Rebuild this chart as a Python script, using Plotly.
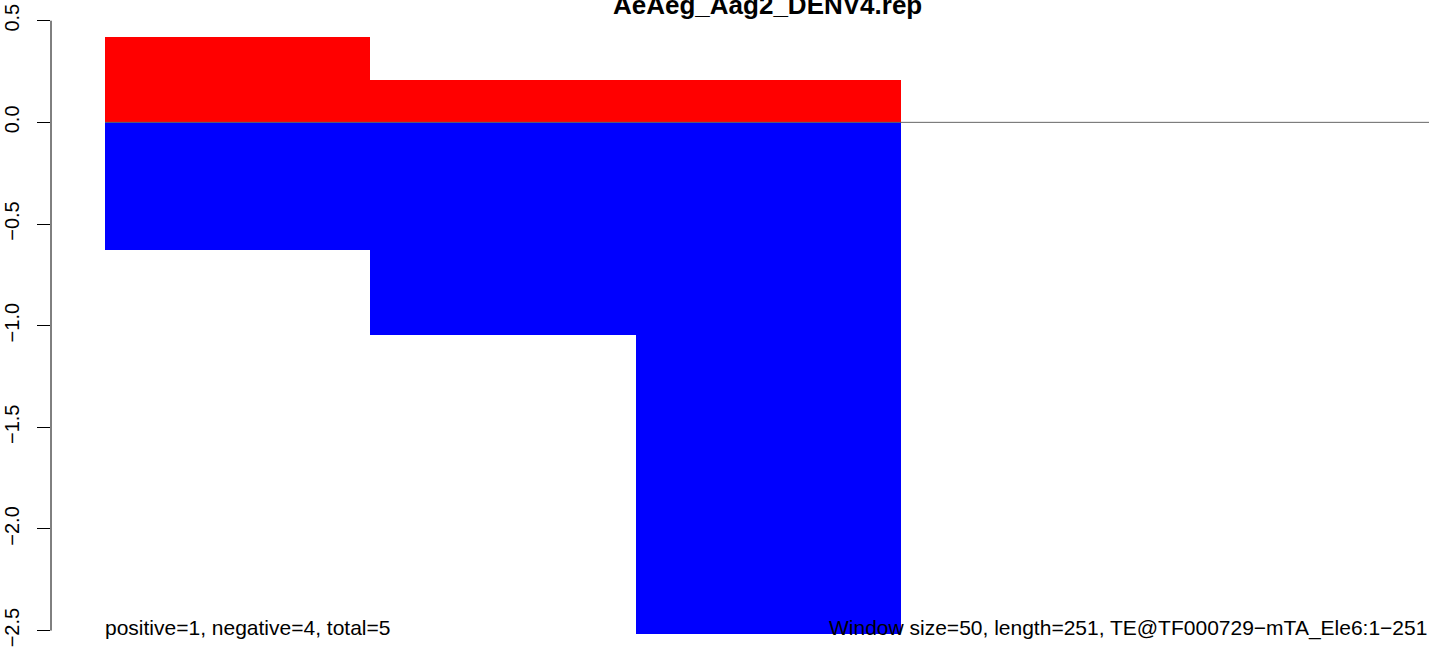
import plotly.graph_objects as go

# ---- data ----
window_start = [0, 50, 100]
window_end = [50, 100, 150]
pos_values = [0.421, 0.210, 0.210]
neg_values = [-0.630, -1.048, -2.517]
y_ticks = [-2.5, -2.0, -1.5, -1.0, -0.5, 0.0, 0.5]
y_tick_labels = ["\u22122.5", "\u22122.0", "\u22121.5", "\u22121.0", "\u22120.5", "0.0", "0.5"]
seq_length = 251
title_text = "AeAeg_Aag2_DENV4.rep"
left_note = "positive=1, negative=4, total=5"
right_note = "Window size=50, length=251, TE@TF000729\u2212mTA_Ele6:1\u2212251"

FONT = "Liberation Sans, Arial, Helvetica, sans-serif"

centers = [(s + e) / 2 for s, e in zip(window_start, window_end)]
widths = [e - s for s, e in zip(window_start, window_end)]

fig = go.Figure()

# zero line
fig.add_trace(go.Scatter(x=[0, seq_length], y=[0, 0], mode="lines",
                         line=dict(color="#666666", width=1),
                         hoverinfo="skip", showlegend=False))

fig.add_trace(go.Bar(x=centers, y=pos_values, width=widths, base=0,
                     marker=dict(color="#FF0000", line=dict(width=0)),
                     showlegend=False))
fig.add_trace(go.Bar(x=centers, y=neg_values, width=widths, base=0,
                     marker=dict(color="#0000FF", line=dict(width=0)),
                     showlegend=False))

W, H = 1429, 656
ml = 51
px_per_unit_x = 5.306
x0_px = 105
x_lo = (ml - x0_px) / px_per_unit_x
x_hi = x_lo + (W - ml) / px_per_unit_x

px_per_unit_y = 203.3
y_half_px = 20.7  # pixel of y=0.5
y_hi = 0.5 + y_half_px / px_per_unit_y
y_lo = 0.5 - (H - y_half_px) / px_per_unit_y

fig.update_layout(
    width=W, height=H,
    margin=dict(l=ml, r=0, t=0, b=0),
    paper_bgcolor="white", plot_bgcolor="white",
    barmode="overlay", bargap=0,
    font=dict(family=FONT, color="black", size=20),
    xaxis=dict(range=[x_lo, x_hi], visible=False, fixedrange=True),
    yaxis=dict(range=[y_lo, y_hi], showgrid=False, zeroline=False,
               showline=False, ticks="outside", ticklen=13, tickwidth=1,
               tickcolor="black", tickvals=y_ticks, ticktext=y_tick_labels,
               tickangle=-90, tickfont=dict(family=FONT, size=20, color="black"),
               ticklabelstandoff=10, fixedrange=True),
    shapes=[dict(type="line", xref="paper", yref="y", x0=0, x1=0,
                 y0=-2.5, y1=0.5, line=dict(color="black", width=1))],
    annotations=[
        dict(text="<b>" + title_text + "</b>", xref="x", yref="paper",
             x=124.8, y=1 - 5 / H, xanchor="center", yanchor="middle",
             showarrow=False, font=dict(family=FONT, size=26, color="black")),
        dict(text=left_note, xref="x", yref="y", x=0, y=-2.485,
             xanchor="left", yanchor="middle", xshift=-2, showarrow=False,
             font=dict(family=FONT, size=21, color="black")),
        dict(text=right_note, xref="paper", yref="y", x=1, y=-2.485,
             xanchor="right", yanchor="middle", xshift=0, showarrow=False,
             font=dict(family=FONT, size=21, color="black")),
    ],
)

fig.write_html("out.html",
               config={"displayModeBar": False},
               post_script="document.body.style.margin='0px';document.body.style.overflow='hidden';")
